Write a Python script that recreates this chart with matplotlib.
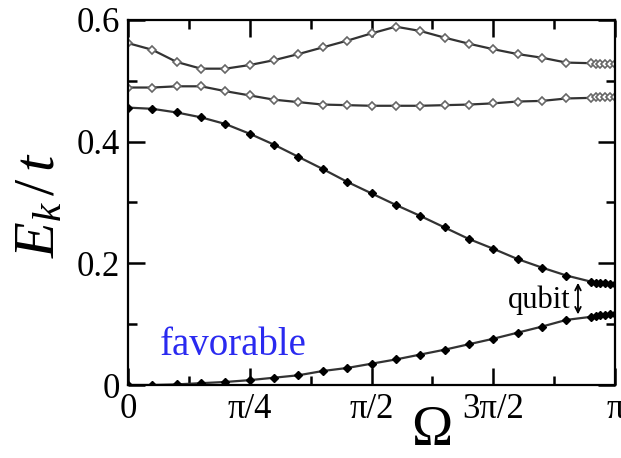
import matplotlib
matplotlib.use("Agg")
import matplotlib.pyplot as plt
from matplotlib.ticker import MultipleLocator

# Omega in units of pi
omega = [0.00, 0.05, 0.10, 0.15, 0.20, 0.25, 0.30, 0.35, 0.40, 0.45,
         0.50, 0.55, 0.60, 0.65, 0.70, 0.75, 0.80, 0.85, 0.90, 0.95,
         0.96, 0.97, 0.98, 0.99, 1.00]

level_top = [0.562, 0.551, 0.531, 0.520, 0.520, 0.526, 0.534, 0.544, 0.555, 0.566,
             0.578, 0.589, 0.582, 0.571, 0.561, 0.552, 0.544, 0.538, 0.530, 0.529,
             0.528, 0.528, 0.528, 0.528, 0.528]
level_mid = [0.489, 0.489, 0.491, 0.491, 0.483, 0.476, 0.469, 0.465, 0.461, 0.460,
             0.459, 0.459, 0.459, 0.460, 0.461, 0.463, 0.466, 0.467, 0.471, 0.472,
             0.473, 0.473, 0.473, 0.473, 0.473]
level_2 = [0.456, 0.454, 0.448, 0.440, 0.429, 0.413, 0.395, 0.375, 0.355, 0.334,
           0.315, 0.296, 0.278, 0.259, 0.240, 0.224, 0.207, 0.193, 0.180, 0.170,
           0.168, 0.167, 0.167, 0.166, 0.166]
level_1 = [0.000, 0.000, 0.001, 0.003, 0.005, 0.008, 0.012, 0.016, 0.023, 0.028,
           0.035, 0.042, 0.050, 0.058, 0.067, 0.076, 0.086, 0.096, 0.107, 0.112,
           0.114, 0.115, 0.115, 0.116, 0.116]

xtick_pos = [0, 0.25, 0.5, 0.75, 1.0]
xtick_labels = ["0", "π/4", "π/2", "3π/2", "π"]
ytick_pos = [0, 0.2, 0.4, 0.6]
ytick_labels = ["0", "0.2", "0.4", "0.6"]

plt.rcParams['font.family'] = ['Liberation Serif', 'DejaVu Serif']
plt.rcParams['mathtext.fontset'] = 'custom'
plt.rcParams['mathtext.rm'] = 'Liberation Serif'
plt.rcParams['mathtext.it'] = 'Liberation Serif:italic'

fig = plt.figure(figsize=(6.21, 4.58), dpi=100)
ax = fig.add_axes([128/621, 1-385/458, 487/621, 365/458])

line_kw = dict(color='#333333', lw=1.6, zorder=2)
ax.plot(omega, level_top, marker='D', ms=4.5, mfc='white', mec='#666666', mew=1.2, **line_kw)
ax.plot(omega, level_mid, marker='D', ms=4.5, mfc='white', mec='#666666', mew=1.2, **line_kw)
ax.plot(omega, level_2, marker='D', ms=4, mfc='black', mec='black', **line_kw)
ax.plot(omega, level_1, marker='D', ms=4, mfc='black', mec='black', **line_kw)

ax.set_xlim(0, 1)
ax.set_ylim(0, 0.6)
ax.set_xticks(xtick_pos)
ax.set_xticklabels(xtick_labels)
ax.set_yticks(ytick_pos)
ax.set_yticklabels(ytick_labels)
ax.xaxis.set_minor_locator(MultipleLocator(0.125))
ax.yaxis.set_minor_locator(MultipleLocator(0.1))
ax.tick_params(which='both', direction='in', top=True, right=True, width=1.8, colors='black')
ax.tick_params(which='major', length=12, labelsize=25, pad=6)
ax.tick_params(which='minor', length=6.5)
for s in ax.spines.values():
    s.set_linewidth(1.6)

# annotations
ax.text(0.066, 0.049, "favorable", color='#2a2af0', fontsize=28, ha='left', va='baseline')
ax.text(0.908, 0.127, "qubit", color='black', fontsize=22, ha='right', va='baseline')
ax.annotate("", xy=(0.924, 0.116), xytext=(0.924, 0.168),
            arrowprops=dict(arrowstyle='<->', color='black', lw=1.3,
                            shrinkA=0, shrinkB=0, mutation_scale=10))

ax.text(0.624, -0.197, "Ω", transform=ax.transAxes, fontsize=40, ha='center', va='bottom')
fig.text(40/621, 1-205/458, r'$E_k\,/\,t$', fontsize=42, rotation=90, ha='center', va='center')

fig.savefig("out.png", dpi=100)
